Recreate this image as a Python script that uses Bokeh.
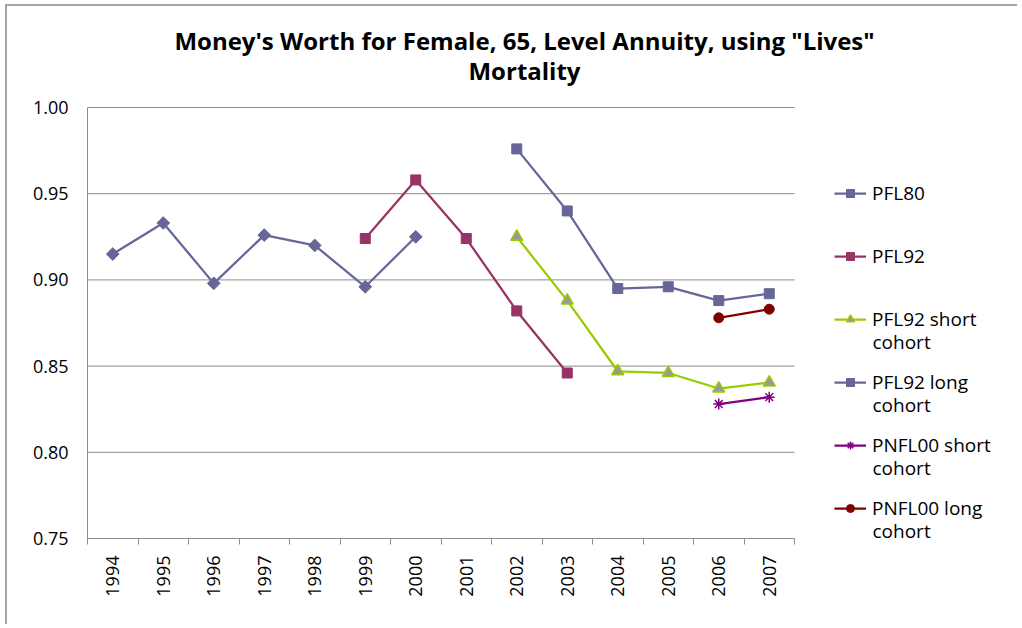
import math
from bokeh.plotting import figure
from bokeh.models import FixedTicker, Legend, LegendItem, Label, Range1d, NumeralTickFormatter
from bokeh.embed import file_html
from bokeh.resources import INLINE

# ---- data ----
years = [1994, 1995, 1996, 1997, 1998, 1999, 2000, 2001, 2002, 2003, 2004, 2005, 2006, 2007]
y_ticks = [0.75, 0.80, 0.85, 0.90, 0.95, 1.00]

pfl80_years = [1994, 1995, 1996, 1997, 1998, 1999, 2000]
pfl80 = [0.915, 0.933, 0.898, 0.926, 0.920, 0.896, 0.925]

pfl92_years = [1999, 2000, 2001, 2002, 2003]
pfl92 = [0.924, 0.958, 0.924, 0.882, 0.846]

cohort_years = [2002, 2003, 2004, 2005, 2006, 2007]
pfl92_short = [0.925, 0.888, 0.847, 0.846, 0.837, 0.8405]
pfl92_long = [0.976, 0.940, 0.895, 0.896, 0.888, 0.892]

pnfl_years = [2006, 2007]
pnfl00_short = [0.828, 0.832]
pnfl00_long = [0.878, 0.883]

series_labels = ["PFL80", "PFL92", "PFL92 short\ncohort", "PFL92 long\ncohort",
                 "PNFL00 short\ncohort", "PNFL00 long\ncohort"]
title_lines = ["Money's Worth for Female, 65, Level Annuity, using \"Lives\"", "Mortality"]

FONT = "Open Sans"
GRID = "#8c8c8c"

# ---- geometry: the plotting area (707 x 431 px) sits inside a larger frame
# so that title and legend (drawn as annotations) are not clipped ----
AREA_W, AREA_H = 707, 431
FRAME_W, FRAME_H = 930, 528
x_lo = years[0] - 0.5
x_hi = years[-1] + 0.5
y_lo, y_hi = y_ticks[0], y_ticks[-1]
x_end = x_lo + (x_hi - x_lo) * FRAME_W / AREA_W
y_end = y_lo + (y_hi - y_lo) * FRAME_H / AREA_H

p = figure(frame_width=FRAME_W, frame_height=FRAME_H, output_backend="svg", toolbar_location=None,
           x_range=Range1d(x_lo, x_end), y_range=Range1d(y_lo, y_end),
           min_border_left=80, min_border_right=0, min_border_top=4, min_border_bottom=86)
p.styles = {"margin-left": "5px", "margin-top": "4px",
            "border-left": "2px solid #a6a6a6", "border-top": "2px solid #a6a6a6"}
p.outline_line_alpha = 0
p.xgrid.grid_line_color = None
p.ygrid.grid_line_color = None

# horizontal gridlines limited to the plotting area
gy = y_ticks[1:]
p.segment(x0=[x_lo] * len(gy), y0=gy, x1=[x_hi] * len(gy), y1=gy, line_color=GRID, line_width=1)

# y axis
p.yaxis.bounds = (y_lo, y_hi)
p.yaxis.ticker = FixedTicker(ticks=y_ticks)
p.yaxis.formatter = NumeralTickFormatter(format="0.00")
p.yaxis.axis_line_color = GRID
p.yaxis.major_tick_line_color = None
p.yaxis.minor_tick_line_color = None
p.yaxis.major_label_text_font = FONT
p.yaxis.major_label_text_font_size = "18px"
p.yaxis.major_label_text_color = "#000000"
p.yaxis.major_label_standoff = 13

# x axis
bounds = [y - 0.5 for y in years] + [years[-1] + 0.5]
p.xaxis.bounds = (x_lo, x_hi)
p.xaxis.ticker = FixedTicker(ticks=years, minor_ticks=bounds)
p.xaxis.major_label_overrides = {y: str(y) for y in years}
p.xaxis.major_label_orientation = math.pi / 2
p.xaxis.axis_line_color = GRID
p.xaxis.major_tick_line_color = None
p.xaxis.minor_tick_line_color = GRID
p.xaxis.minor_tick_in = 0
p.xaxis.minor_tick_out = 6
p.xaxis.major_label_text_font = FONT
p.xaxis.major_label_text_font_size = "18px"
p.xaxis.major_label_text_color = "#000000"
p.xaxis.major_label_standoff = 11

LW = 2.25
r_items = []

l1 = p.line(pfl80_years, pfl80, line_color="#666699", line_width=LW)
m1 = p.scatter(pfl80_years, pfl80, marker="square", angle=math.pi / 4, size=9,
               fill_color="#666699", line_color="#666699")
r_items.append([l1, m1])

l2 = p.line(pfl92_years, pfl92, line_color="#993366", line_width=LW)
m2 = p.scatter(pfl92_years, pfl92, marker="square", size=10, fill_color="#993366", line_color="#993366")
r_items.append([l2, m2])

l3 = p.line(cohort_years, pfl92_short, line_color="#99cc00", line_width=LW)
m3 = p.scatter(cohort_years, pfl92_short, marker="triangle", size=12, fill_color="#999999",
               line_color="#99cc00", line_width=1.5)
r_items.append([l3, m3])

l4 = p.line(cohort_years, pfl92_long, line_color="#666699", line_width=LW)
m4 = p.scatter(cohort_years, pfl92_long, marker="square", size=10, fill_color="#666699", line_color="#666699")
r_items.append([l4, m4])

l5 = p.line(pnfl_years, pnfl00_short, line_color="#800080", line_width=LW)
m5 = p.scatter(pnfl_years, pnfl00_short, marker="asterisk", size=11, line_color="#800080", line_width=1.5)
r_items.append([l5, m5])

l6 = p.line(pnfl_years, pnfl00_long, line_color="#800000", line_width=LW)
m6 = p.scatter(pnfl_years, pnfl00_long, marker="circle", size=10, fill_color="#800000", line_color="#800000")
r_items.append([l6, m6])

# legend (inside the enlarged frame, right of the plotting area)
LEG_X, LEG_Y = 747, 17
ITEM_H, SPACING = 26, 37
items = [LegendItem(label=lab.split("\n")[0], renderers=rs) for lab, rs in zip(series_labels, r_items)]
legend = Legend(items=items, location=(LEG_X, LEG_Y), padding=0, margin=0,
                glyph_width=32, glyph_height=20, label_height=ITEM_H, spacing=SPACING,
                label_standoff=6, label_text_font=FONT, label_text_font_size="19px",
                label_text_color="#000000", border_line_alpha=0, background_fill_alpha=0)
p.add_layout(legend, "center")

# second lines of the legend labels
n = len(series_labels)
first_center = LEG_Y + n * ITEM_H + (n - 1) * SPACING - ITEM_H / 2
for i, lab in enumerate(series_labels):
    parts = lab.split("\n")
    for j, extra in enumerate(parts[1:], start=1):
        yc = first_center - i * (ITEM_H + SPACING) - 22 * j
        p.add_layout(Label(x=LEG_X + 38, y=yc, x_units="screen", y_units="screen", text=extra,
                           text_font=FONT, text_font_size="19px", text_color="#000000",
                           text_baseline="middle", text_align="left"))

# title (two centred lines)
for k, t in enumerate(title_lines):
    p.add_layout(Label(x=437, y=498 - 30 * k, x_units="screen", y_units="screen", text=t,
                       text_font=FONT, text_font_size="24px", text_font_style="bold",
                       text_color="#000000", text_baseline="middle", text_align="center"))

open("out.html", "w").write(file_html(p, INLINE))
